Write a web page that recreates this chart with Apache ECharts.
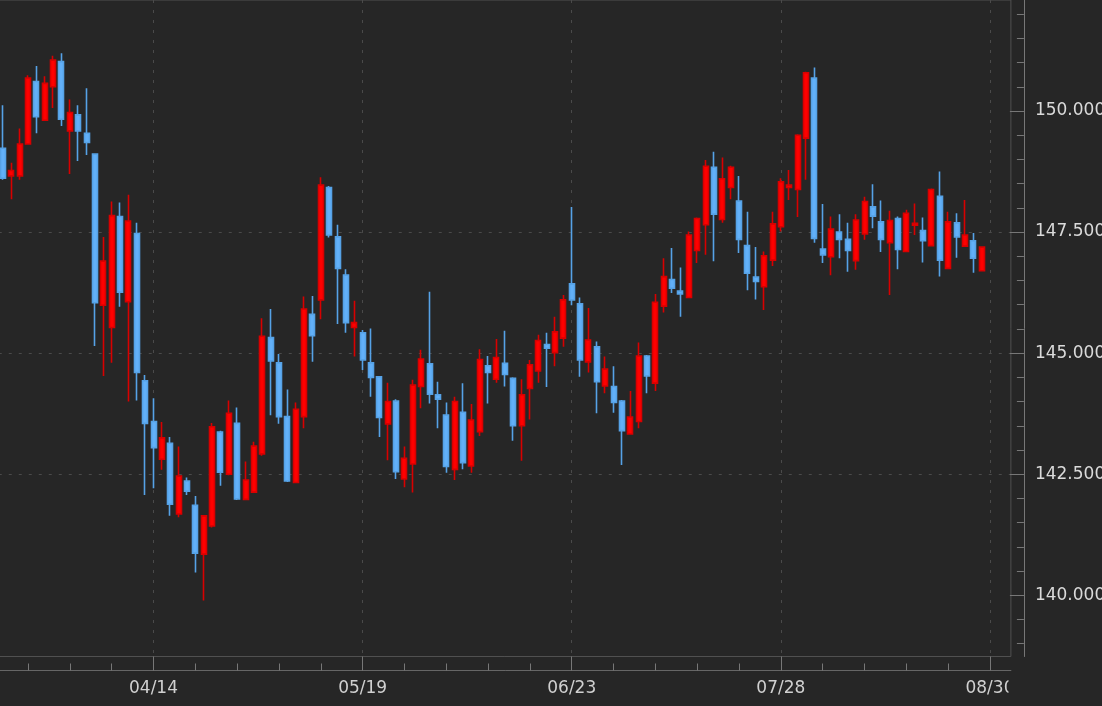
<!DOCTYPE html>
<html>
<head>
<meta charset="utf-8">
<script src="https://cdn.jsdelivr.net/npm/echarts@6/dist/echarts.min.js"></script>
<style>
html,body{margin:0;padding:0;background:#262626;}
#c{width:1102px;height:706px;}
</style>
</head>
<body>
<div id="c"></div>
<script>
// ---- data ----
const dates = [
'03/19','03/20','03/21','03/24','03/25','03/26','03/27','03/28','03/31',
'04/01','04/02','04/03','04/04','04/07','04/08','04/09','04/10','04/11',
'04/14','04/15','04/16','04/17','04/18','04/21','04/22','04/23','04/24','04/25','04/28','04/29','04/30',
'05/01','05/02','05/05','05/06','05/07','05/08','05/09','05/12','05/13','05/14','05/15','05/16',
'05/19','05/20','05/21','05/22','05/23','05/26','05/27','05/28','05/29','05/30',
'06/02','06/03','06/04','06/05','06/06','06/09','06/10','06/11','06/12','06/13',
'06/16','06/17','06/18','06/19','06/20','06/23','06/24','06/25','06/26','06/27','06/30',
'07/01','07/02','07/03','07/04','07/07','07/08','07/09','07/10','07/11',
'07/14','07/15','07/16','07/17','07/18','07/21','07/22','07/23','07/24','07/25',
'07/28','07/29','07/30','07/31','08/01','08/04','08/05','08/06','08/07','08/08',
'08/11','08/12','08/13','08/14','08/15','08/18','08/19','08/20','08/21','08/22',
'08/25','08/26','08/27','08/28','08/29','08/30','09/01','09/02'
];
const opens = [
149.23,148.66,148.66,149.32,150.61,149.81,150.50,151.02,149.59,149.92,
149.54,149.11,145.99,145.53,147.82,146.06,147.47,144.43,143.59,142.81,
143.14,141.68,142.36,141.86,140.85,141.43,143.37,142.50,143.55,141.98,
142.13,142.92,145.32,144.80,143.69,142.33,143.69,145.80,146.10,148.42,
147.40,146.61,145.53,145.42,144.80,144.51,143.54,144.01,142.40,142.71,
144.31,144.78,144.14,143.72,142.60,143.78,142.67,143.38,144.74,144.46,
144.79,144.48,143.50,144.27,144.63,145.18,145.01,145.31,146.43,146.02,
144.82,145.13,144.32,144.31,144.01,143.33,143.59,144.94,144.38,145.97,
146.52,146.28,146.15,147.12,147.65,148.84,147.76,148.42,148.14,147.22,
146.57,146.37,146.92,147.61,148.42,148.38,149.44,150.68,147.15,146.99,
147.50,147.35,146.91,147.46,148.02,147.71,147.28,147.78,147.10,147.64,
147.53,147.22,148.24,146.75,147.69,147.21,147.32,146.70
];
const closes = [
148.61,148.77,149.32,150.68,149.88,150.57,151.05,149.83,149.97,149.59,
149.35,146.04,146.90,147.84,146.26,147.73,144.60,143.55,143.05,143.25,
141.88,142.46,142.15,140.87,141.64,143.48,142.54,143.76,141.99,142.38,
143.08,145.35,144.84,143.69,142.36,143.84,145.91,145.36,148.47,147.44,
146.75,145.63,145.63,144.86,144.50,143.67,144.00,142.55,142.83,144.34,
144.88,144.15,144.05,142.66,144.00,142.74,143.62,144.87,144.60,144.91,
144.56,143.50,144.14,144.76,145.26,145.10,145.44,146.10,146.10,144.86,
145.27,144.41,144.67,143.98,143.40,143.68,144.94,144.53,146.05,146.58,
146.34,146.22,147.44,147.78,148.86,147.87,148.60,148.84,147.35,146.65,
146.48,147.01,147.67,148.54,148.47,149.50,150.79,147.37,147.03,147.56,
147.35,147.12,147.75,148.13,147.83,147.35,147.74,147.14,147.89,147.68,
147.32,148.38,146.92,147.71,147.40,147.44,146.96,147.19
];
const lows = [
148.58,148.18,148.58,149.32,149.54,149.81,150.06,149.69,148.70,148.97,
149.09,145.15,144.53,144.80,145.96,144.00,144.02,142.07,142.21,142.59,
141.64,141.61,142.07,140.47,139.89,141.40,142.26,142.48,141.97,141.96,
142.11,142.88,143.72,143.54,142.34,142.32,143.45,144.82,145.70,147.39,
145.60,145.42,144.93,144.65,144.10,143.27,142.79,142.40,142.23,142.12,
143.86,143.96,143.45,142.53,142.38,142.60,142.53,143.29,143.96,144.39,
144.31,143.19,142.78,143.63,144.39,144.30,144.73,145.13,145.99,144.51,
144.60,143.76,144.17,143.77,142.69,143.33,143.45,144.17,144.22,145.84,
146.24,145.75,146.15,146.86,147.03,146.90,147.69,148.18,147.07,146.30,
146.11,145.89,146.80,147.51,148.16,147.81,148.58,147.28,146.86,146.61,
146.96,146.68,146.72,147.34,147.58,147.09,146.20,146.73,147.09,147.44,
146.87,147.22,146.58,146.75,146.97,147.21,146.66,146.70
];
const highs = [
150.12,148.93,149.64,150.74,150.93,150.72,151.14,151.19,150.24,150.12,
150.47,149.11,147.40,148.13,148.11,148.27,147.69,144.55,144.07,143.58,
143.27,143.07,142.43,142.05,141.66,143.56,143.40,144.02,143.88,142.76,
143.17,145.72,145.91,144.98,144.25,143.98,146.17,146.18,148.63,148.45,
147.65,146.73,146.08,145.48,145.51,144.52,144.39,144.05,143.07,144.45,
145.07,146.27,144.41,143.98,144.10,144.38,143.95,145.08,144.94,145.29,
145.46,144.50,144.46,144.86,145.38,145.42,145.75,146.20,148.02,146.15,
145.93,145.24,144.93,144.73,144.03,144.22,145.22,144.96,146.22,146.96,
147.17,146.77,147.51,147.80,148.99,149.16,149.04,148.87,148.66,147.92,
147.19,147.10,147.92,148.61,148.78,149.52,150.81,150.90,148.08,147.82,
147.87,147.69,147.87,148.23,148.49,148.15,147.94,147.82,147.96,148.09,
147.80,148.40,148.75,147.92,147.89,148.16,147.48,147.19
];
const yLabelTicks = [140, 142.5, 145, 147.5, 150];
const yMinorTicks = [139, 139.5, 140, 140.5, 141, 141.5, 142, 142.5, 143, 143.5, 144, 144.5,
  145, 145.5, 146, 146.5, 147, 147.5, 148, 148.5, 149, 149.5, 150, 150.5, 151, 151.5, 152];

// ---- chart ----
const BG = '#262626';
const candles = opens.map((o, i) => [o, closes[i], lows[i], highs[i]]);
const isMajor = i => i % 25 === 18;
const isMinor = i => i % 5 === 3 && !isMajor(i);
const Y_MIN = 138.736, Y_MAX = 152.292;
const GRID_LINE = { color: '#4a4a4a', width: 1, type: [3, 7] };
const AXIS_COLOR = '#777777';
const FONT = 'DejaVu Sans';

const chart = echarts.init(document.getElementById('c'), null, { renderer: 'canvas' });
chart.setOption({
  backgroundColor: BG,
  animation: false,
  grid: {
    left: -1.25, right: 91.1, top: 0, bottom: 49.5,
    show: true, borderColor: '#505050', borderWidth: 1, backgroundColor: 'transparent',
    containLabel: false, outerBoundsMode: 'none'
  },
  xAxis: [
    {
      type: 'category', data: dates, boundaryGap: true, position: 'bottom', offset: 14,
      axisLine: { show: true, lineStyle: { color: '#666666', width: 1 } },
      axisTick: { show: true, inside: true, length: 14, alignWithLabel: true,
        interval: (i) => isMajor(i), lineStyle: { color: AXIS_COLOR } },
      axisLabel: { show: true, interval: (i) => isMajor(i), color: '#d0d0d0',
        fontFamily: FONT, fontSize: 17, margin: 10 },
      splitLine: { show: true, interval: (i) => isMajor(i), alignWithLabel: true, lineStyle: GRID_LINE }
    },
    {
      type: 'category', data: dates, boundaryGap: true, position: 'bottom', offset: 14,
      axisLine: { show: false },
      axisTick: { show: true, inside: true, length: 7, alignWithLabel: true,
        interval: (i) => isMinor(i), lineStyle: { color: AXIS_COLOR } },
      axisLabel: { show: false },
      splitLine: { show: false }
    }
  ],
  yAxis: [
    {
      type: 'value', position: 'right', offset: 13, min: Y_MIN, max: Y_MAX,
      minInterval: 2.5, maxInterval: 2.5,
      axisLine: { show: true, lineStyle: { color: AXIS_COLOR, width: 1 } },
      axisTick: { show: true, inside: true, length: 14, customValues: yLabelTicks,
        lineStyle: { color: AXIS_COLOR } },
      axisLabel: {
        show: true, customValues: yLabelTicks, color: '#dadada', fontFamily: FONT, fontSize: 17, margin: 11,
        formatter: (v) => (Math.abs(v / 2.5 - Math.round(v / 2.5)) < 1e-6 ? v.toFixed(3) : '')
      },
      splitLine: { show: true, showMinLine: false, showMaxLine: false, lineStyle: GRID_LINE }
    },
    {
      type: 'value', position: 'right', offset: 13, min: Y_MIN, max: Y_MAX,
      minInterval: 0.5, maxInterval: 0.5,
      axisLine: { show: false },
      axisTick: { show: true, inside: true, length: 7, customValues: yMinorTicks,
        lineStyle: { color: AXIS_COLOR } },
      axisLabel: { show: false },
      splitLine: { show: false }
    }
  ],
  series: [{
    type: 'candlestick', data: candles, xAxisIndex: 0, yAxisIndex: 0, barWidth: 5.5,
    itemStyle: { color: '#ff0000', color0: '#62b0f8', borderColor: '#d80000', borderColor0: '#56a2e6', borderWidth: 1.6 }
  }],
  graphic: [{
    type: 'rect', z: 100, silent: true,
    shape: { x: 1008.5, y: 676, width: 14, height: 30 },
    style: { fill: BG }
  }]
});
</script>
</body>
</html>
